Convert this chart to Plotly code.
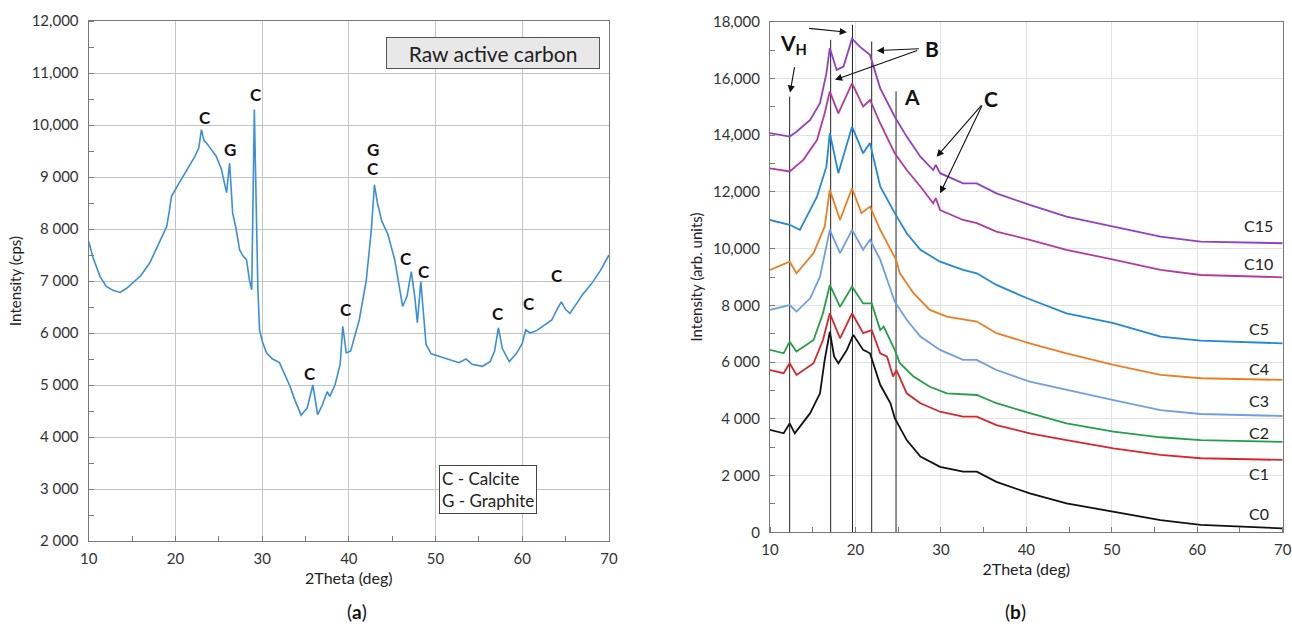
import plotly.graph_objects as go

# ---------------- Panel (a): raw active carbon ----------------
a_theta = [10.0, 10.5, 11.3, 12.0, 12.8, 13.6, 14.3, 15.1, 16.0, 17.05, 18.0, 19.0, 19.3, 19.55, 20.3, 21.3,
           22.2, 22.7, 23.0, 23.3, 23.6, 24.0, 24.7, 25.3, 25.9, 26.25, 26.6, 27.0, 27.4, 27.8, 28.2, 28.55,
           28.8, 29.1, 29.3, 29.5, 29.7, 30.0, 30.5, 31.2, 32.0, 32.6, 33.2, 33.8, 34.5, 35.2, 35.85, 36.4,
           36.9, 37.5, 37.8, 38.4, 39.0, 39.3, 39.7, 40.2, 41.2, 42.0, 42.6, 42.95, 43.3, 43.8, 44.5, 45.3,
           46.2, 46.7, 47.2, 47.6, 47.9, 48.3, 48.6, 48.9, 49.5, 50.5, 51.5, 52.7, 53.5, 54.2, 55.4, 56.3,
           56.8, 57.25, 57.7, 58.5, 59.3, 60.0, 60.4, 60.9, 61.7, 62.5, 63.4, 64.0, 64.5, 65.0, 65.5, 66.2,
           67.0, 68.0, 69.0, 70.0]
a_int = [7760, 7450, 7090, 6900, 6820, 6780, 6850, 6960, 7100, 7350, 7680, 8050, 8350, 8630, 8850, 9140,
         9380, 9560, 9910, 9700, 9650, 9560, 9400, 9150, 8700, 9270, 8310, 8000, 7600, 7480, 7410, 7000,
         6830, 10300, 8500, 6900, 6060, 5850, 5620, 5500, 5430, 5200, 4980, 4700, 4420, 4560, 5000, 4430,
         4600, 4870, 4780, 5000, 5400, 6130, 5620, 5650, 6250, 7000, 8000, 8850, 8500, 8150, 7900, 7400,
         6510, 6700, 7180, 6700, 6200, 6990, 6300, 5780, 5600, 5550, 5500, 5430, 5500, 5400, 5360, 5450,
         5650, 6100, 5700, 5450, 5600, 5800, 6060, 6000, 6050, 6150, 6250, 6450, 6600, 6450, 6380, 6550,
         6750, 6950, 7200, 7500]

a_yticks = [2000, 3000, 4000, 5000, 6000, 7000, 8000, 9000, 10000, 11000, 12000]
a_yticktext = ["2 000", "3 000", "4 000", "5 000", "6 000", "7 000", "8 000", "9 000", "10,000", "11,000", "12,000"]
a_xticks = [10, 20, 30, 40, 50, 60, 70]

a_label_text = ["C", "G", "C", "C", "C", "G", "C", "C", "C", "C", "C", "C"]
a_label_x = [23.4, 26.3, 29.3, 35.5, 39.7, 42.75, 42.75, 46.6, 48.7, 57.25, 60.8, 64.0]
a_label_y = [10140, 9520, 10590, 5230, 6450, 9530, 9160, 7440, 7190, 6380, 6560, 7100]

# ---------------- Panel (b): activated samples ----------------
series_names = ["C0", "C1", "C2", "C3", "C4", "C5", "C10", "C15"]
series_colors = ["#111111", "#d8262a", "#23a046", "#6f9ee8", "#ee7d22", "#2189d8", "#b43a9e", "#9040c8"]

c0_x = [10, 11.6, 12.3, 12.9, 14.7, 15.85, 16.4, 17.0, 17.5, 18.0, 19.0, 19.75, 20.9, 21.7, 22.9, 24.1,
        24.6, 26.0, 27.6, 29.9, 32.6, 34.2, 36.5, 40.4, 44.7, 50.2, 55.7, 60.4, 70]
c0_y = [3610, 3490, 3840, 3490, 4200, 4900, 6080, 7070, 6200, 5960, 6430, 6960, 6430, 6310, 5200, 4550,
        4020, 3250, 2670, 2310, 2140, 2140, 1780, 1370, 1020, 730, 430, 260, 140]

c1_x = [10, 11.6, 12.3, 13.1, 15.1, 16.2, 17.0, 18.2, 19.6, 20.9, 21.9, 22.9, 23.7, 24.4, 24.8, 26.0,
        27.6, 29.9, 32.6, 34.2, 36.5, 40.4, 44.7, 50.2, 55.7, 60.4, 70]
c1_y = [5720, 5610, 5960, 5550, 5960, 6780, 7720, 6840, 7720, 7020, 7130, 6310, 6190, 5490, 5720, 4900,
        4550, 4250, 4080, 4080, 3780, 3490, 3250, 2960, 2730, 2610, 2550]

c2_x = [10, 11.6, 12.3, 13.1, 15.1, 16.2, 17.0, 18.2, 19.6, 20.9, 21.9, 22.9, 23.3, 24.6, 25.2, 26.8,
        28.7, 30.7, 34.2, 36.5, 40.4, 44.7, 50.2, 55.7, 60.4, 70]
c2_y = [6430, 6310, 6720, 6370, 6780, 7720, 8720, 7950, 8660, 8070, 8070, 7130, 7250, 6430, 5960, 5490,
        5130, 4900, 4840, 4550, 4200, 3840, 3550, 3350, 3250, 3190]

c3_x = [10, 12.3, 13.1, 14.7, 15.85, 17.0, 18.2, 19.6, 20.9, 21.7, 22.9, 24.6, 26.0, 27.6, 29.9, 32.6,
        34.2, 36.5, 40.4, 44.7, 50.2, 55.7, 60.4, 70]
c3_y = [7840, 8010, 7780, 8250, 9010, 10660, 9840, 10660, 9960, 10310, 9610, 8130, 7490, 6900, 6430, 6080,
        6080, 5720, 5310, 5020, 4660, 4310, 4170, 4100]

c4_x = [10, 12.3, 13.1, 15.1, 16.4, 17.0, 18.2, 19.6, 20.7, 21.7, 22.9, 24.75, 25.2, 26.8, 28.7, 30.7,
        34.2, 36.5, 40.4, 44.7, 50.2, 55.7, 60.4, 70]
c4_y = [9250, 9540, 9130, 9840, 10780, 12070, 11010, 12130, 11250, 11480, 10660, 9610, 9130, 8430, 7840, 7600,
        7430, 7020, 6660, 6310, 5900, 5550, 5430, 5370]

c5_x = [10, 12.3, 13.5, 15.5, 16.6, 17.0, 18.0, 19.6, 20.9, 21.7, 22.9, 24.6, 26.0, 27.6, 29.9, 32.6,
        34.2, 36.5, 40.1, 44.7, 50.2, 55.7, 60.4, 70]
c5_y = [11010, 10840, 10660, 11830, 12890, 14070, 12660, 14300, 13360, 13720, 12190, 11250, 10540, 9960, 9540, 9250,
        9130, 8720, 8250, 7720, 7370, 6900, 6760, 6660]

c10_x = [10, 12.3, 13.9, 15.5, 16.4, 17.0, 18.0, 19.6, 20.9, 21.7, 22.9, 24.6, 26.0, 27.6, 29.1, 29.4,
         29.9, 32.6, 34.2, 36.5, 40.4, 44.7, 50.2, 55.7, 60.4, 70]
c10_y = [12830, 12720, 13130, 13830, 14770, 15540, 14770, 15830, 15010, 15240, 14420, 13360, 12770, 12190, 11600, 11780,
         11360, 11010, 10900, 10600, 10310, 9960, 9610, 9250, 9070, 8990]

c15_x = [10, 12.3, 13.1, 14.7, 15.85, 16.6, 17.0, 17.8, 18.6, 19.6, 20.5, 21.7, 22.9, 24.6, 26.0, 27.6,
         29.1, 29.4, 29.9, 32.6, 34.2, 36.5, 40.4, 44.7, 50.2, 55.7, 60.4, 70]
c15_y = [14070, 13950, 14120, 14540, 15130, 16180, 17070, 16300, 16420, 17400, 17120, 16830, 15650, 14650, 13950, 13240,
         12770, 12950, 12660, 12300, 12300, 11950, 11540, 11130, 10780, 10420, 10250, 10190]

series_x = [c0_x, c1_x, c2_x, c3_x, c4_x, c5_x, c10_x, c15_x]
series_y = [c0_y, c1_y, c2_y, c3_y, c4_y, c5_y, c10_y, c15_y]
series_label_y = [670, 2060, 3510, 4640, 5780, 7190, 9490, 10800]

b_yticks = [0, 2000, 4000, 6000, 8000, 10000, 12000, 14000, 16000, 18000]
b_yticktext = ["0", "2 000", "4 000", "6 000", "8 000", "10,000", "12,000", "14,000", "16,000", "18,000"]

peak_x = [12.3, 17.1, 19.65, 21.9, 24.75]
peak_top = [15360, 17360, 17890, 17300, 15540]

FONT = "Lato, 'Open Sans', sans-serif"

# the page's body margin is removed (post_script), so the figure fills the 1292x644 window
W, H = 1292, 644


def px_x(p):
    return p / W


def px_y(p):
    return 1 - p / H


fig = go.Figure()

# Panel (a) curve
fig.add_trace(go.Scatter(x=a_theta, y=a_int, mode="lines", line=dict(color="#3a8fdc", width=1.6),
                         showlegend=False, xaxis="x", yaxis="y"))

# Panel (b) vertical reference lines
vx, vy = [], []
for px_, top in zip(peak_x, peak_top):
    vx += [px_, px_, None]
    vy += [0, top, None]
fig.add_trace(go.Scatter(x=vx, y=vy, mode="lines", line=dict(color="#222222", width=1),
                         showlegend=False, xaxis="x2", yaxis="y2"))

# Panel (b) curves
for name, col, xs, ys in zip(series_names, series_colors, series_x, series_y):
    fig.add_trace(go.Scatter(x=xs, y=ys, mode="lines", line=dict(color=col, width=1.8), name=name,
                             showlegend=False, xaxis="x2", yaxis="y2"))

annotations = []
# peak labels panel (a)
for t, x, y in zip(a_label_text, a_label_x, a_label_y):
    annotations.append(dict(x=x, y=y, xref="x", yref="y", text="<b>%s</b>" % t, showarrow=False,
                            font=dict(size=17, color="#111111", family=FONT)))
annotations.append(dict(x=56.6, y=11390, xref="x", yref="y", text="Raw active carbon", showarrow=False,
                        font=dict(size=21, color="#222222", family=FONT), bgcolor="#e8e8e8",
                        bordercolor="#555555", borderwidth=1, width=210, height=28))
annotations.append(dict(x=50.4, y=3000, xref="x", yref="y", xanchor="left", align="left",
                        text="C - Calcite<br>G - Graphite", showarrow=False,
                        font=dict(size=17, color="#222222", family=FONT), bgcolor="white",
                        bordercolor="#444444", borderwidth=1, borderpad=2))

# curve labels panel (b)
for name, ly in zip(series_names, series_label_y):
    annotations.append(dict(x=67.2, y=ly, xref="x2", yref="y2", text=name, showarrow=False,
                            font=dict(size=16, color="#222222", family=FONT)))

# letters panel (b)
annotations.append(dict(x=12.8, y=17200, xref="x2", yref="y2", text="<b>V<sub>H</sub></b>", showarrow=False,
                        font=dict(size=21, color="#111111", family=FONT)))
annotations.append(dict(x=28.9, y=17050, xref="x2", yref="y2", text="<b>B</b>", showarrow=False,
                        font=dict(size=21, color="#111111", family=FONT)))
annotations.append(dict(x=26.6, y=15360, xref="x2", yref="y2", text="<b>A</b>", showarrow=False,
                        font=dict(size=21, color="#111111", family=FONT)))
annotations.append(dict(x=35.9, y=15300, xref="x2", yref="y2", text="<b>C</b>", showarrow=False,
                        font=dict(size=21, color="#111111", family=FONT)))

arrow_heads = [(12.35, 15500), (19.0, 17630), (22.5, 16980), (17.6, 15950), (29.5, 13240), (29.9, 11950)]
arrow_tails = [(12.9, 16450), (14.4, 17770), (27.6, 17050), (27.4, 17000), (34.9, 15100), (34.9, 15100)]
for (hx, hy), (tx, ty) in zip(arrow_heads, arrow_tails):
    annotations.append(dict(x=hx, y=hy, ax=tx, ay=ty, xref="x2", yref="y2", axref="x2", ayref="y2",
                            text="", showarrow=True, arrowhead=2, arrowsize=1.3, arrowwidth=1.1,
                            arrowcolor="#111111"))

# panel letters
annotations.append(dict(x=px_x(345), y=px_y(625), xref="paper", yref="paper", text="(<b>a</b>)",
                        showarrow=False, font=dict(size=19, color="#111111", family=FONT)))
annotations.append(dict(x=px_x(1028), y=px_y(625), xref="paper", yref="paper", text="(<b>b</b>)",
                        showarrow=False, font=dict(size=19, color="#111111", family=FONT)))

axis_common = dict(showline=True, mirror=True, linecolor="#7a7a7a", linewidth=1.3, zeroline=False,
                   ticks="", automargin=False, ticklabeloverflow="allow",
                   tickfont=dict(size=15, color="#333333", family=FONT))

fig.update_layout(
    width=W, height=H, margin=dict(l=0, r=0, t=0, b=0, autoexpand=False),
    paper_bgcolor="white", plot_bgcolor="white", showlegend=False,
    font=dict(family=FONT, color="#222222"),
    xaxis=dict(domain=[px_x(88.7), px_x(609)], range=[10, 70], tickvals=a_xticks,
               showgrid=True, gridcolor="#c4c4c4", gridwidth=1,
               minor=dict(dtick=5, tick0=0, ticks="inside", ticklen=5, tickcolor="#7a7a7a", showgrid=False),
               title=dict(text="2Theta (deg)", font=dict(size=16, color="#222222", family=FONT), standoff=6),
               anchor="y", ticklabelstandoff=4, **axis_common),
    yaxis=dict(domain=[px_y(541), px_y(21)], range=[2000, 12000], tickvals=a_yticks,
               ticktext=a_yticktext, showgrid=True, gridcolor="#c4c4c4", gridwidth=1,
               minor=dict(dtick=500, tick0=0, ticks="inside", ticklen=5, tickcolor="#7a7a7a", showgrid=False),
               title=dict(text="Intensity (cps)", font=dict(size=15, color="#222222", family=FONT), standoff=6),
               anchor="x", ticklabelstandoff=6, **axis_common),
    xaxis2=dict(domain=[px_x(770), px_x(1282.7)], range=[10, 70], tickvals=a_xticks,
                showgrid=True, gridcolor="#e2e2e2", gridwidth=1,
                minor=dict(dtick=5, tick0=0, ticks="inside", ticklen=5, tickcolor="#7a7a7a", showgrid=False),
                title=dict(text="2Theta (deg)", font=dict(size=16, color="#222222", family=FONT), standoff=6),
                anchor="y2", ticklabelstandoff=4, **axis_common),
    yaxis2=dict(domain=[px_y(532.3), px_y(21.7)], range=[0, 18000], tickvals=b_yticks,
                ticktext=b_yticktext, showgrid=True, gridcolor="#e2e2e2", gridwidth=1,
                minor=dict(dtick=1000, tick0=0, ticks="inside", ticklen=5, tickcolor="#7a7a7a", showgrid=False),
                title=dict(text="Intensity (arb. units)", font=dict(size=15, color="#222222", family=FONT), standoff=6),
                anchor="x2", ticklabelstandoff=6, **axis_common),
    annotations=annotations,
)

fig.write_html("out.html", config={"displayModeBar": False},
               post_script="document.body.style.margin='0';document.body.style.overflow='hidden';")
